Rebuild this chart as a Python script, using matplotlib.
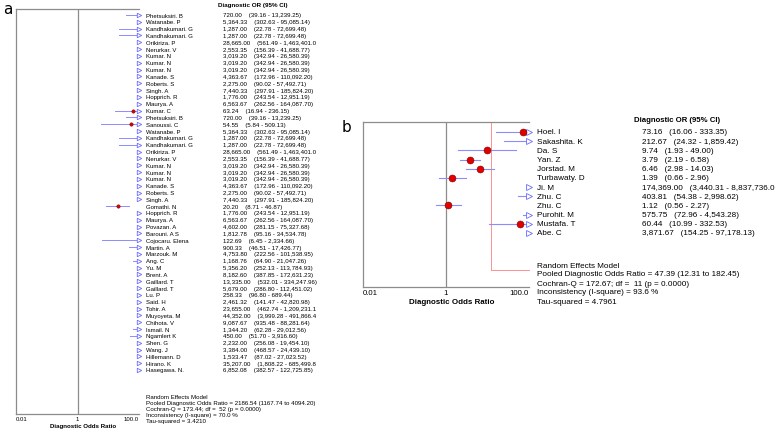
import matplotlib
matplotlib.use("Agg")
import matplotlib.pyplot as plt
from matplotlib.transforms import blended_transform_factory, offset_copy

W, H, DPI = 778, 431, 100

# ---- panel a data ----
studies_a = [
    "Phetsuksiri. B", "Watanabe. P", "Kandhakumari. G", "Kandhakumari. G", "Orikiriza. P",
    "Nerurkar. V", "Kumar. N", "Kumar. N", "Kumar. N", "Kanade. S", "Roberts. S", "Singh. A",
    "Hopprich. R", "Maurya. A", "Kumar. C", "Phetsuksiri. B", "Sanoussi. C", "Watanabe. P",
    "Kandhakumari. G", "Kandhakumari. G", "Orikiriza. P", "Nerurkar. V", "Kumar. N", "Kumar. N",
    "Kumar. N", "Kanade. S", "Roberts. S", "Singh. A", "Gomathi. N", "Hopprich. R", "Maurya. A",
    "Povazan. A", "Barouni. A S", "Cojocaru. Elena", "Martin. A", "Marzouk. M", "Ang. C", "Yu. M",
    "Brent. A", "Gaillard. T", "Gaillard. T", "Lu. P", "Said. H", "Tohir. A", "Muyoyeta. M",
    "Chihota. V", "Ismail. N", "Ngamlert K", "Shen. G", "Wang. J", "Hillemann. D", "Hirano. K",
    "Hasegawa. N.",
]
dor_a = [
    720.00, 5364.33, 1287.00, 1287.00, 28665.00, 2553.35, 3019.20, 3019.20, 3019.20, 4363.67,
    2275.00, 7440.33, 1776.00, 6563.67, 63.24, 720.00, 54.55, 5364.33, 1287.00, 1287.00,
    28665.00, 2553.35, 3019.20, 3019.20, 3019.20, 4363.67, 2275.00, 7440.33, 20.20, 1776.00,
    6563.67, 4602.00, 1812.78, 122.69, 900.33, 4753.80, 1168.76, 5356.20, 8182.60, 13335.00,
    5679.00, 258.33, 2461.32, 23655.00, 44352.00, 9087.67, 1344.20, 450.00, 2232.00, 3384.00,
    1533.47, 35207.00, 6852.08,
]
lo_a = [
    39.16, 302.63, 22.78, 22.78, 561.49, 156.39, 342.94, 342.94, 342.94, 172.96,
    90.02, 297.91, 243.54, 262.56, 16.94, 39.16, 5.84, 302.63, 22.78, 22.78,
    561.49, 156.39, 342.94, 342.94, 342.94, 172.96, 90.02, 297.91, 8.71, 243.54,
    262.56, 281.15, 95.16, 6.45, 46.51, 222.56, 64.90, 252.13, 387.85, 532.01,
    286.80, 96.80, 141.47, 462.74, 3999.28, 935.48, 62.28, 51.70, 256.08, 468.57,
    87.02, 1808.22, 382.57,
]
hi_a = [
    13239.25, 95085.14, 72699.48, 72699.48, 1463401.05, 41688.77, 26580.39, 26580.39, 26580.39,
    110092.20, 57492.71, 185824.20, 12951.19, 164087.70, 236.15, 13239.25, 509.13, 95085.14,
    72699.48, 72699.48, 1463401.05, 41688.77, 26580.39, 26580.39, 26580.39, 110092.20,
    57492.71, 185824.20, 46.87, 12951.19, 164087.70, 75327.68, 34534.78, 2334.66, 17426.77,
    101538.95, 21047.26, 113784.93, 172631.23, 334247.96, 112451.02, 689.44, 42820.98,
    1209231.15, 491866.45, 88281.64, 29012.56, 3916.60, 19454.10, 24439.10, 27023.52,
    685499.85, 122725.85,
]
summary_a = [
    "Random Effects Model",
    "Pooled Diagnostic Odds Ratio = 2186.54 (1167.74 to 4094.20)",
    "Cochran-Q = 173.44; df =  52 (p = 0.0000)",
    "Inconsistency (I-square) = 70.0 %",
    "Tau-squared = 3.4210",
]

# ---- panel b data ----
studies_b = [
    "Hoel. I", "Sakashita. K", "Da. S", "Yan. Z", "Jorstad. M", "Turbawaty. D",
    "Ji. M", "Zhu. C", "Zhu. C", "Purohit. M", "Mustafa. T", "Abe. C",
]
dor_b = [73.16, 212.67, 9.74, 3.79, 6.46, 1.39, 174369.00, 403.81, 1.12, 575.75, 60.44, 3871.67]
lo_b = [16.06, 24.32, 1.93, 2.19, 2.98, 0.66, 3440.31, 54.38, 0.56, 72.96, 10.99, 154.25]
hi_b = [333.35, 1859.42, 49.00, 6.58, 14.03, 2.96, 8837736.05, 2998.62, 2.27, 4543.28, 332.53, 97178.13]
pooled_b = (47.39, 12.31, 182.45)
summary_b = [
    "Random Effects Model",
    "Pooled Diagnostic Odds Ratio = 47.39 (12.31 to 182.45)",
    "Cochran-Q = 172.67; df =  11 (p = 0.0000)",
    "Inconsistency (I-square) = 93.6 %",
    "Tau-squared = 4.7961",
]

XTICKS = [0.01, 1, 100]
XTICKLABELS = ["0.01", "1", "100.0"]

CI_COLOR = "#8c8cff"
ARROW_COLOR = "#6a6aff"
DOT_COLOR = "#e00000"
DOT_EDGE = "#7a0000"
GRID_GRAY = "#8c8c8c"

plt.rcParams["font.family"] = ["Liberation Sans", "DejaVu Sans"]

fig = plt.figure(figsize=(W / DPI, H / DPI), dpi=DPI)
renderer = fig.canvas.get_renderer()


def px_axes(left, top, right, bottom):
    return fig.add_axes([left / W, 1 - bottom / H, (right - left) / W, (bottom - top) / H])


def fmt(v):
    return f"{v:,.2f}"


def cut_to_width(t, x_right):
    # the original table column is cut off at a fixed edge
    s = t.get_text()
    while s and t.get_window_extent(renderer).x1 > x_right:
        s = s[:-1]
        t.set_text(s)


def draw_forest(ax, dor, lo, hi, dot_ms, arrow_ms, lw, fs):
    xmax = XTICKS[-1]
    arrow_tr = offset_copy(ax.transData, fig=fig, x=-0.5, y=0, units="dots")
    for i in range(len(dor)):
        if lo[i] < xmax:
            ax.plot([lo[i], min(hi[i], xmax)], [i, i], color=CI_COLOR, lw=lw, zorder=2)
        if hi[i] > xmax:
            ax.plot([xmax], [i], marker=">", ms=arrow_ms, mfc="white", mec=ARROW_COLOR,
                    mew=0.6, transform=arrow_tr, clip_on=False, zorder=3)
        if dor[i] < xmax:
            ax.plot([dor[i]], [i], marker="o", ms=dot_ms, mfc=DOT_COLOR, mec=DOT_EDGE,
                    mew=0.4, zorder=4)
    ax.axvline(1, color=GRID_GRAY, lw=0.9, zorder=1)
    ax.set_xscale("log")
    ax.set_xlim(0.01, xmax)
    ax.set_yticks([])
    ax.minorticks_off()
    ax.set_xticks(XTICKS, XTICKLABELS)
    ax.tick_params(axis="x", length=0, pad=1.5, labelsize=fs)
    labels = ax.get_xticklabels()
    labels[0].set_ha("left")
    labels[-1].set_ha("right")
    ax.spines["right"].set_visible(False)
    for s in ("left", "top", "bottom"):
        ax.spines[s].set_color(GRID_GRAY)
        ax.spines[s].set_linewidth(0.9)


# ---------------- panel a ----------------
ax_a = px_axes(16, 9.5, 139, 415)
n_a = len(studies_a)
row_px_a = (371 - 16) / (n_a - 1)
ax_a.set_ylim(n_a - 1 + (415 - 371) / row_px_a, -(16 - 9.5) / row_px_a)
draw_forest(ax_a, dor_a, lo_a, hi_a, dot_ms=2.4, arrow_ms=3.2, lw=0.7, fs=4.3)
ax_a.set_xlabel("Diagnostic Odds Ratio", fontsize=4.4, fontweight="bold", va="center")
ax_a.xaxis.set_label_coords((83 - 16) / (139 - 16), -(426.5 - 415) / (415 - 9.5))

tr_a = blended_transform_factory(fig.transFigure, ax_a.transData)
for i in range(n_a):
    fig.text(146 / W, i, studies_a[i], transform=tr_a, fontsize=4.3, va="center")
    t = fig.text(223 / W, i, f"{fmt(dor_a[i])}    ({fmt(lo_a[i])} - {fmt(hi_a[i])})",
                 transform=tr_a, fontsize=4.45, va="center")
    cut_to_width(t, 319)
fig.text(218 / W, 1 - 6 / H, "Diagnostic OR (95% CI)", fontsize=4.5, fontweight="bold", va="center")
for k, line in enumerate(summary_a):
    fig.text(146 / W, 1 - (398 + k * 5.85) / H, line, fontsize=4.4, va="center")
fig.text(3 / W, 1 - 10 / H, "a", fontsize=11, family="DejaVu Sans", va="center")

# ---------------- panel b ----------------
ax_b = px_axes(363, 123, 529, 288)
n_b = len(studies_b)
row_px_b = (234 - 133) / (n_b - 1)
ax_b.set_ylim(n_b - 1 + (288 - 234) / row_px_b, -(133 - 123) / row_px_b)
draw_forest(ax_b, dor_b, lo_b, hi_b, dot_ms=5.0, arrow_ms=4.5, lw=0.8, fs=5.6)
ax_b.set_xlabel("Diagnostic Odds Ratio", fontsize=5.7, fontweight="bold", va="center")
ax_b.xaxis.set_label_coords((452 - 363) / (529 - 363), -(303 - 288) / (288 - 123))

# pooled estimate outline
pool_row = n_b - 1 + (271 - 234) / row_px_b
top_row = ax_b.get_ylim()[1]
ax_b.plot([pooled_b[1], pooled_b[1], XTICKS[-1]], [top_row, pool_row, pool_row],
          color="#ff9090", lw=0.7, zorder=1, clip_on=False)

tr_b = blended_transform_factory(fig.transFigure, ax_b.transData)
for i in range(n_b):
    fig.text(537 / W, i, studies_b[i], transform=tr_b, fontsize=5.9, va="center")
    t = fig.text(642 / W, i, f"{fmt(dor_b[i])}   ({fmt(lo_b[i])} - {fmt(hi_b[i])})",
                 transform=tr_b, fontsize=5.9, va="center")
    cut_to_width(t, W - 1)
fig.text(634 / W, 1 - 120 / H, "Diagnostic OR (95% CI)", fontsize=5.6, fontweight="bold", va="center")
for k, line in enumerate(summary_b):
    fig.text(537 / W, 1 - (266 + k * 9.0) / H, line, fontsize=5.9, va="center")
fig.text(342 / W, 1 - 128 / H, "b", fontsize=11, family="DejaVu Sans", va="center")

fig.savefig("out.png", dpi=DPI)
